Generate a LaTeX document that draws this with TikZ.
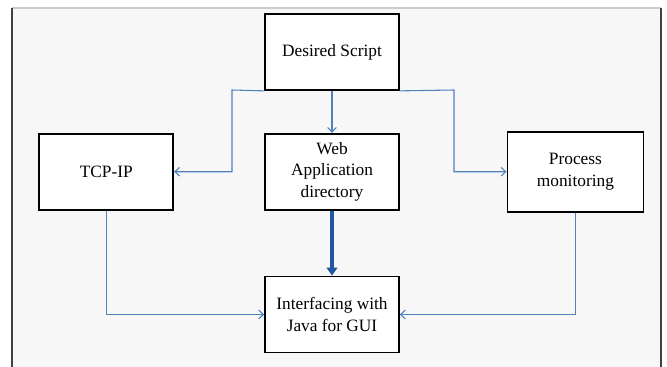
\documentclass[tikz,border=0pt]{standalone}
\usepackage{fontspec}
\setmainfont{Liberation Serif}
\usepackage{tikz}
\usetikzlibrary{positioning,arrows.meta}
\definecolor{linkblue}{RGB}{79,129,189}
\definecolor{boldblue}{RGB}{31,88,160}
\definecolor{pagegray}{RGB}{247,247,247}
\tikzset{
  block/.style={rectangle, draw, line width=1.3pt, fill=white, minimum width=100.5pt, minimum height=57pt,
                align=center, font=\fontsize{13}{16}\selectfont},
  link/.style={->, draw=linkblue, line width=0.8pt, >={Straight Barb[length=3.5pt,width=6.5pt]}},
  boldlink/.style={-{Triangle[length=6pt,width=8pt]}, draw=boldblue, line width=3pt},
}

\begin{document}
\begin{tikzpicture}[x=0.75pt, y=-0.75pt]
\useasboundingbox (0,0) rectangle (667,367);
%Frame
\fill[pagegray] (12,8) rectangle (661,367);
\draw[black!20, line width=0.8pt] (12,8) -- (661,8);
\draw[black!75, line width=0.9pt] (12,8) -- (12,367);
\draw[black!75, line width=0.9pt] (661,8) -- (661,367);

%Nodes
\node[block] (script) at (332,52) {Desired Script};
\node[block] (webdir) [below=31.5pt of script] {Web\\Application\\directory};
\node[block] (tcpip) [left=67.5pt of webdir] {TCP-IP};
\node[block, minimum width=102pt, minimum height=60pt] (procmon) [right=80pt of webdir] {Process\\monitoring};
\node[block] (javagui) [below=48.75pt of webdir] {Interfacing with\\Java for GUI};
\coordinate (splitL) at (232,90);
\coordinate (splitR) at (454,90);

%Lines
\draw[link] (script.south) -- (webdir.north);
\draw[link] (script.south west) -- (splitL) |- (tcpip.east);
\draw[link] (script.south east) -- (splitR) |- (procmon.west);
\draw[boldlink] (webdir.south) -- (javagui.north);
\draw[link] (tcpip.south) |- (javagui.west);
\draw[link] (procmon.south) |- (javagui.east);
\end{tikzpicture}
\end{document}
